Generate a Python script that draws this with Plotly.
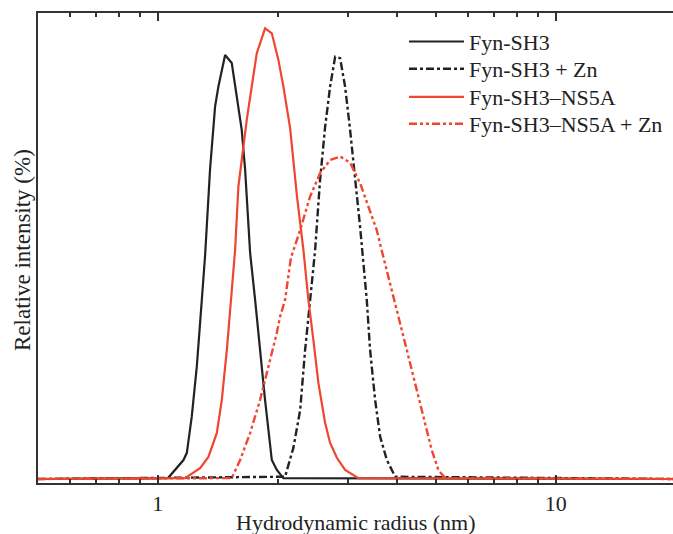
import numpy as np
import plotly.graph_objects as go

# ---- data ----
r_fyn = [0.5, 1.061, 1.160, 1.183, 1.217, 1.253, 1.290, 1.315, 1.353, 1.393, 1.420,
         1.476, 1.534, 1.594, 1.625, 1.657, 1.706, 1.756, 1.807, 1.860, 1.934,
         1.991, 2.068, 20]
i_fyn = [0, 0.2, 4.2, 5.8, 13.8, 24.9, 39.7, 49.7, 68.7, 82.6, 87.0,
         94.0, 92.2, 82.6, 77.4, 68.7, 50.1, 39.7, 28.6, 17.5, 4.2,
         2.0, 0.2, 0]

r_fyn_zn = [0.5, 2.088, 2.191, 2.279, 2.345, 2.413, 2.484, 2.557, 2.633, 2.710,
            2.790, 2.871, 2.955, 3.042, 3.131, 3.223, 3.350, 3.415, 3.516,
            3.619, 3.763, 3.948, 20]
i_fyn_zn = [0, 0.5, 6.9, 15.3, 28.6, 39.7, 50.6, 66.3, 78.1, 87.0,
            93.6, 93.3, 87.0, 77.4, 67.0, 55.9, 39.7, 28.6, 17.5,
            9.4, 4.2, 0.5, 0]

r_ns5a = [0.5, 1.171, 1.277, 1.340, 1.407, 1.448, 1.491, 1.534, 1.564, 1.594,
          1.641, 1.673, 1.722, 1.773, 1.860, 1.934, 2.009, 2.068, 2.150,
          2.235, 2.322, 2.390, 2.460, 2.532, 2.633, 2.710, 2.818, 2.955,
          3.192, 20]
i_ns5a = [0, 0.2, 2.4, 4.9, 10.2, 17.5, 28.6, 41.2, 50.8, 64.8,
          73.7, 79.6, 87.0, 94.4, 99.9, 98.8, 92.9, 87.0, 77.8,
          63.0, 50.8, 39.7, 30.8, 21.3, 12.4, 8.0, 4.7, 2.0,
          0.2, 0]

r_ns5a_zn = [0.5, 1.534, 1.610, 1.706, 1.807, 1.896, 1.991, 2.029, 2.088, 2.160,
             2.279, 2.413, 2.557, 2.710, 2.871, 3.042, 3.223, 3.381, 3.549,
             3.654, 3.835, 4.023, 4.223, 4.432, 4.649, 4.879, 5.070, 5.272, 20]
i_ns5a_zn = [0, 0.2, 4.2, 10.2, 17.5, 24.9, 32.4, 36.0, 39.7, 49.0,
             55.2, 62.6, 67.8, 70.7, 71.5, 70.1, 65.6, 60.4, 55.2,
             50.6, 43.5, 36.0, 28.6, 21.3, 13.8, 6.4, 2.0, 0.2, 0]

names = ["Fyn-SH3", "Fyn-SH3 + Zn", "Fyn-SH3\u2013NS5A", "Fyn-SH3\u2013NS5A + Zn"]
major_ticks = [1, 10]
minor_ticks = [0.6, 0.7, 0.8, 0.9, 2, 3, 4, 5, 6, 7, 8, 9]
x_title = "Hydrodynamic radius (nm)"
y_title = "Relative intensity (%)"

BLACK = "#222222"
RED = "#F0452F"
FONT = "Liberation Serif"
FS = 22

# plot-area geometry in pixels
L, T, B, W, H = 38, 13, 51, 673, 534
PW, PH = W - L, H - T - B


def px_x(p):
    return (p - L) / PW


def px_y(p):
    return (H - B - p) / PH


series = [
    (r_fyn, i_fyn, BLACK, 2.2, "solid"),
    (r_fyn_zn, i_fyn_zn, BLACK, 2.4, "8px,3px,3px,3px"),
    (r_ns5a, i_ns5a, RED, 2.2, "solid"),
    (r_ns5a_zn, i_ns5a_zn, RED, 2.4, "8px,3px,3px,3px,3px,3px"),
]
legend_rows = [41.7, 69.0, 97.0, 124.0]

fig = go.Figure()
legend_layouts = {}
for k, (xs, ys, col, lw, dash) in enumerate(series):
    lg = "legend" if k == 0 else f"legend{k + 1}"
    fig.add_trace(go.Scatter(x=xs, y=ys, mode="lines", name=names[k], legend=lg,
                             line=dict(color=col, width=lw, dash=dash)))
    legend_layouts[lg] = dict(x=px_x(404), y=px_y(legend_rows[k]),
                              xanchor="left", yanchor="middle",
                              bgcolor="rgba(0,0,0,0)",
                              font=dict(family=FONT, size=FS, color="#222"),
                              itemwidth=55)

fig.update_layout(
    width=W, height=H,
    margin=dict(l=L, r=0, t=T, b=B, autoexpand=False),
    paper_bgcolor="white", plot_bgcolor="white",
    font=dict(family=FONT, size=FS, color="#222"),
    showlegend=True,
    xaxis=dict(type="log", range=[np.log10(0.5), 1.2945], automargin=False,
               showline=True, linecolor="#333", linewidth=2, mirror="ticks",
               ticks="inside", ticklen=8, tickwidth=1.5, tickcolor="#333",
               tickvals=major_ticks, ticktext=[str(v) for v in major_ticks],
               minor=dict(tickmode="array", tickvals=minor_ticks, ticks="inside",
                          ticklen=4, tickwidth=1.5, tickcolor="#333", showgrid=False),
               showgrid=False, zeroline=False,
               tickfont=dict(family=FONT, size=FS)),
    yaxis=dict(range=[-0.89, 103.3], automargin=False, showline=True,
               linecolor="#333", linewidth=2,
               mirror=False, showticklabels=False, ticks="", showgrid=False,
               zeroline=False),
    annotations=[
        dict(text=x_title, xref="paper", yref="paper", x=px_x(355.5),
             y=px_y(522), xanchor="center", yanchor="middle",
             showarrow=False, font=dict(family=FONT, size=FS)),
        dict(text=y_title, xref="paper", yref="paper", x=px_x(22),
             y=px_y(250), xanchor="center", yanchor="middle",
             textangle=-90, showarrow=False, font=dict(family=FONT, size=23)),
    ],
    **legend_layouts,
)

fig.write_html("out.html",
               config={"displayModeBar": False},
               post_script="document.body.style.margin='0';"
                           "document.body.style.overflow='hidden';")
